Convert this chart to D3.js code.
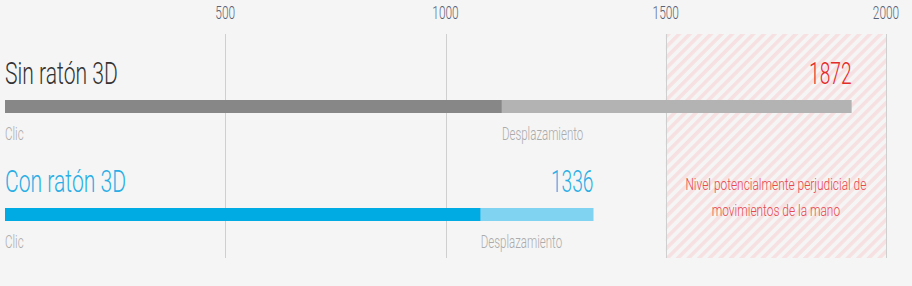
<!DOCTYPE html>
<html lang="es">
  <head>
    <meta charset="utf-8" />
    <title>Ratón 3D</title>
    <script src="https://d3js.org/d3.v7.min.js"></script>
    <style>
      body {
        margin: 0;
        background: #f5f5f5;
      }
      svg text {
        font-family: Roboto, "DejaVu Sans Condensed", sans-serif;
        font-weight: 300;
      }
    </style>
  </head>
  <body>
    <script>
      // data
      var groups = ["Sin ratón 3D", "Con ratón 3D"];
      var clicValues = [1128, 1080];
      var despValues = [794, 256];
      var totalLabels = ["1872", "1336"];
      var segmentNames = ["Clic", "Desplazamiento"];
      var tickValues = [500, 1000, 1500, 2000];
      var dangerZone = [1500, 2000];
      var dangerText = ["Nivel potencialmente perjudicial de", "movimientos de la mano"];

      var w = 912, h = 286;

      var colors = {
        title: ["#333333", "#29aee6"],
        total: ["#e42b2b", "#29aee6"],
        clic: ["#878787", "#00abe4"],
        desp: ["#b3b3b3", "#80d4f2"]
      };

      var x = d3.scaleLinear().domain([0, 2000]).range([5, 886]);
      var rowY = d3.scaleLinear().domain([0, 1]).range([100, 208]);
      var barH = 13;
      var gridTop = 34, gridBottom = 258;

      var svg = d3.select("body").append("svg")
        .attr("width", w)
        .attr("height", h);

      // hatch pattern
      var pat = svg.append("defs").append("pattern")
        .attr("id", "hatch")
        .attr("patternUnits", "userSpaceOnUse")
        .attr("width", 7.5)
        .attr("height", 7.5)
        .attr("patternTransform", "rotate(45)");
      pat.append("rect")
        .attr("width", 3.6)
        .attr("height", 7.5)
        .attr("fill", "#f7e0e1");

      svg.append("rect")
        .attr("x", x(dangerZone[0]))
        .attr("y", gridTop)
        .attr("width", x(dangerZone[1]) - x(dangerZone[0]))
        .attr("height", gridBottom - gridTop)
        .attr("fill", "url(#hatch)");

      // grid lines
      svg.selectAll("line.grid")
        .data(tickValues)
        .enter()
        .append("line")
        .attr("class", "grid")
        .attr("x1", function (d) { return Math.round(x(d)) + 0.5; })
        .attr("x2", function (d) { return Math.round(x(d)) + 0.5; })
        .attr("y1", gridTop)
        .attr("y2", gridBottom)
        .attr("stroke", "#cfcfcf")
        .attr("stroke-width", 1);

      // condensed text: squeeze horizontally by sx
      function label(g, px, py, str, size, sx, color, anchor) {
        return g.append("text")
          .attr("transform", "translate(" + px + "," + py + ") scale(" + sx + ",1)")
          .attr("text-anchor", anchor || "start")
          .attr("font-size", size)
          .attr("fill", color)
          .text(str);
      }

      // top axis labels
      tickValues.forEach(function (d) {
        label(svg, x(d), 19, d, 18, 0.66, "#5b6274", "middle");
      });

      // rows
      groups.forEach(function (name, i) {
        var y0 = rowY(i);
        var clicEnd = x(clicValues[i]);
        var end = x(clicValues[i] + despValues[i]);

        label(svg, 5, y0 - 16, name, 32, 0.66, colors.title[i]);
        label(svg, end, y0 - 16, totalLabels[i], 32, 0.6, colors.total[i], "end");

        svg.append("rect")
          .attr("x", x(0))
          .attr("y", y0)
          .attr("width", clicEnd - x(0))
          .attr("height", barH)
          .attr("fill", colors.clic[i]);
        svg.append("rect")
          .attr("x", clicEnd)
          .attr("y", y0)
          .attr("width", end - clicEnd)
          .attr("height", barH)
          .attr("fill", colors.desp[i]);

        label(svg, 5, y0 + 40, segmentNames[0], 18, 0.64, "#ababab");
        label(svg, clicEnd, y0 + 40, segmentNames[1], 18, 0.64, "#ababab");
      });

      // danger zone note
      var cx = x((dangerZone[0] + dangerZone[1]) / 2);
      dangerText.forEach(function (t, i) {
        label(svg, cx, 190 + i * 26, t, 17, 0.7, "#e8474c", "middle");
      });
    </script>
  </body>
</html>
